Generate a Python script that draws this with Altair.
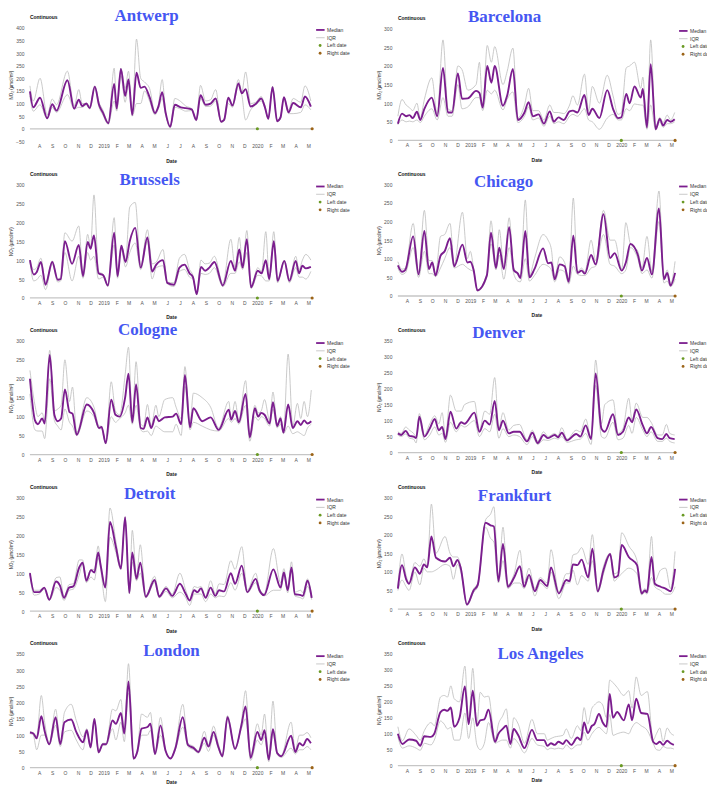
import altair as alt
import pandas as pd

# ---------------------------------------------------------------- time frame
START = pd.Timestamp("2018-07-10")
END = pd.Timestamp("2020-05-10")
LEFT_DATE = pd.Timestamp("2020-01-01")
RIGHT_DATE = END
MONTH_TICKS = pd.date_range("2018-08-01", "2020-05-01", freq="MS")

MEDIAN_COLOR = "#7b1d8e"
IQR_COLOR = "#bdbdbd"
LEFT_COLOR = "#6a9a24"
RIGHT_COLOR = "#9c6418"
TITLE_BLUE = "#4557f2"
Y_TITLE = "NO₂ (µmol/m²)"
LEGEND_ITEMS = ["Median", "IQR", "Left date", "Right date"]

# ---------------------------------------------------------------- data
# knots: days since 2018-07-10; median, lower quartile (q1), upper quartile (q3)
antwerp_days = [0, 8, 24, 41, 53, 63, 89, 105, 116, 124, 134, 142, 154, 164, 173, 186, 200, 206, 216, 226,
                234, 243, 253, 263, 272, 284, 297, 305, 314, 322, 333, 344, 358, 370, 384, 395, 405, 417, 429, 441,
                454, 461, 471, 481, 495, 503, 512, 524, 536, 549, 558, 566, 576, 587, 595, 603, 614, 625, 643, 653, 667]
antwerp_med = [148, 85, 123, 42, 97, 72, 192, 80, 115, 90, 100, 82, 167, 95, 65, 22, 178, 80, 237, 130,
               195, 55, 222, 162, 167, 125, 62, 88, 145, 65, 8, 95, 85, 82, 77, 35, 133, 95, 100, 120,
               28, 35, 123, 92, 180, 140, 157, 88, 98, 120, 85, 40, 165, 30, 45, 125, 65, 102, 85, 128, 88]
antwerp_q3 = [170, 110, 200, 55, 118, 95, 228, 90, 155, 100, 100, 90, 170, 105, 75, 25, 240, 90, 240, 160,
              228, 60, 355, 200, 185, 160, 65, 95, 195, 70, 10, 120, 108, 90, 80, 38, 172, 110, 115, 155,
              30, 40, 125, 95, 195, 145, 225, 100, 105, 128, 90, 42, 168, 32, 50, 125, 75, 120, 105, 170, 110]
antwerp_q1 = [130, 70, 95, 40, 85, 65, 135, 78, 85, 85, 95, 78, 160, 85, 55, 18, 110, 70, 210, 105,
              175, 50, 100, 100, 150, 110, 55, 80, 120, 55, 5, 85, 78, 70, 72, 32, 120, 88, 90, 110,
              25, 30, 100, 85, 170, 135, 35, 75, 95, 110, 80, 38, 160, 28, 40, 120, 60, 60, 65, 95, 75]

barcelona_days = [0, 10, 20, 28, 36, 46, 54, 64, 82, 95, 109, 121, 131, 145, 155, 169, 189, 197, 205, 216,
                  226, 234, 254, 264, 278, 290, 306, 316, 326, 340, 353, 367, 377, 388, 401, 415, 423, 434, 451, 461,
                  470, 487, 506, 520, 532, 540, 552, 560, 572, 587, 592, 602, 611, 623, 633, 641, 651, 659, 669]
barcelona_med = [45, 72, 65, 68, 60, 77, 55, 85, 115, 65, 195, 75, 75, 180, 112, 113, 133, 128, 88, 200,
                 155, 200, 93, 120, 192, 55, 75, 103, 65, 70, 45, 78, 50, 62, 55, 78, 80, 75, 122, 68,
                 85, 60, 135, 85, 60, 62, 125, 100, 145, 115, 138, 35, 205, 30, 58, 40, 55, 50, 57]
barcelona_q3 = [65, 110, 95, 88, 80, 100, 60, 110, 168, 70, 270, 85, 80, 200, 190, 135, 150, 210, 90, 255,
                210, 252, 150, 185, 248, 60, 95, 140, 80, 80, 55, 95, 75, 75, 72, 95, 120, 95, 178, 80,
                145, 100, 175, 120, 70, 75, 195, 200, 210, 140, 170, 38, 270, 35, 62, 48, 68, 55, 75]
barcelona_q1 = [42, 55, 50, 52, 50, 55, 48, 65, 85, 55, 115, 65, 65, 150, 85, 90, 115, 115, 80, 135,
                125, 135, 82, 110, 130, 48, 65, 90, 55, 60, 38, 65, 45, 50, 45, 65, 70, 65, 85, 55,
                50, 30, 60, 70, 55, 55, 85, 80, 98, 95, 95, 30, 95, 28, 50, 35, 45, 45, 50]

brussels_days = [0, 9, 16, 26, 37, 53, 66, 73, 83, 100, 116, 126, 137, 144, 152, 163, 174, 185, 200, 208,
                 217, 227, 237, 250, 263, 279, 290, 300, 316, 326, 342, 355, 367, 379, 387, 396, 406, 416, 426, 438,
                 458, 477, 487, 497, 505, 515, 525, 541, 550, 560, 568, 579, 588, 604, 616, 631, 639, 647, 655, 667]
brussels_med = [100, 62, 68, 95, 35, 95, 48, 50, 150, 90, 140, 58, 148, 130, 165, 65, 60, 33, 172, 58,
                138, 95, 150, 185, 80, 160, 70, 88, 100, 40, 35, 80, 88, 65, 55, 10, 82, 72, 80, 95,
                33, 98, 72, 128, 80, 155, 28, 72, 65, 100, 50, 150, 45, 98, 45, 98, 65, 85, 78, 82]
brussels_q3 = [100, 75, 80, 105, 40, 98, 50, 55, 172, 150, 190, 60, 168, 135, 272, 70, 62, 35, 212, 60,
               140, 100, 240, 252, 85, 180, 90, 95, 128, 42, 40, 105, 115, 75, 60, 12, 100, 90, 92, 110,
               38, 155, 80, 160, 85, 178, 30, 80, 70, 175, 55, 175, 48, 100, 50, 110, 75, 100, 115, 100]
brussels_q1 = [95, 45, 48, 60, 22, 90, 42, 45, 120, 45, 110, 52, 120, 100, 110, 50, 55, 30, 140, 52,
               128, 82, 120, 145, 75, 150, 50, 80, 85, 38, 30, 70, 75, 55, 50, 8, 65, 62, 65, 80,
               30, 65, 65, 95, 75, 120, 25, 60, 58, 45, 45, 140, 40, 95, 40, 80, 55, 55, 50, 70]

chicago_days = [0, 10, 18, 37, 50, 64, 75, 83, 91, 103, 113, 126, 136, 156, 168, 175, 183, 192, 215, 225,
                237, 245, 256, 269, 280, 290, 296, 308, 318, 330, 351, 363, 371, 379, 391, 403, 413, 424, 434, 444,
                452, 467, 478, 497, 513, 524, 541, 551, 562, 580, 590, 602, 614, 631, 643, 651, 659, 670]
chicago_med = [82, 65, 70, 160, 58, 175, 72, 90, 55, 108, 120, 155, 80, 138, 90, 92, 70, 15, 55, 170,
               75, 130, 72, 185, 70, 60, 48, 175, 50, 72, 128, 88, 90, 45, 85, 80, 38, 162, 62, 68,
               60, 110, 85, 220, 102, 115, 68, 90, 140, 110, 68, 102, 58, 235, 45, 62, 28, 62]
chicago_q3 = [92, 72, 75, 195, 62, 230, 95, 95, 58, 160, 165, 195, 85, 225, 100, 120, 75, 17, 60, 202,
              80, 178, 80, 210, 75, 62, 50, 258, 55, 100, 165, 150, 125, 50, 105, 90, 40, 263, 65, 75,
              65, 150, 95, 230, 150, 150, 72, 197, 140, 120, 75, 160, 65, 282, 50, 70, 32, 93]
chicago_q1 = [75, 58, 62, 130, 50, 120, 60, 60, 52, 75, 100, 130, 75, 85, 75, 70, 65, 13, 50, 140,
              70, 110, 45, 130, 60, 40, 38, 100, 40, 55, 85, 80, 70, 38, 70, 65, 32, 80, 58, 55,
              55, 75, 80, 165, 85, 80, 60, 70, 130, 100, 60, 70, 48, 200, 35, 40, 25, 45]

cologne_days = [0, 12, 19, 29, 35, 47, 58, 66, 74, 83, 94, 101, 111, 135, 152, 164, 170, 180, 193, 203,
                213, 226, 234, 243, 252, 263, 270, 279, 288, 299, 306, 320, 339, 347, 359, 368, 380, 388, 409, 429,
                448, 472, 478, 487, 496, 512, 522, 534, 542, 549, 557, 569, 577, 587, 595, 602, 613, 624, 635, 643,
                651, 659, 668]
cologne_med = [200, 90, 80, 95, 82, 263, 105, 88, 95, 172, 112, 108, 52, 132, 110, 70, 73, 30, 145, 105,
               100, 150, 213, 85, 185, 70, 68, 98, 70, 102, 88, 98, 100, 108, 80, 210, 72, 122, 88, 98,
               65, 118, 92, 115, 85, 160, 45, 122, 100, 110, 105, 82, 138, 75, 95, 58, 132, 70, 88, 78,
               90, 82, 88]
cologne_q3 = [222, 130, 100, 110, 90, 275, 115, 120, 130, 250, 140, 178, 58, 150, 125, 75, 75, 32, 192, 115,
              105, 210, 283, 90, 245, 80, 75, 132, 75, 130, 100, 145, 150, 125, 95, 232, 80, 162, 150, 125,
              70, 140, 95, 140, 90, 195, 50, 130, 110, 115, 145, 90, 165, 80, 100, 60, 265, 75, 135, 95,
              140, 100, 170]
cologne_q1 = [160, 65, 62, 62, 42, 200, 90, 75, 65, 120, 85, 75, 50, 115, 100, 68, 68, 28, 100, 85,
              95, 110, 130, 80, 130, 65, 60, 62, 50, 75, 70, 60, 60, 80, 50, 180, 65, 85, 75, 65,
              62, 95, 85, 95, 80, 130, 35, 100, 90, 100, 95, 75, 120, 70, 80, 55, 75, 55, 60, 55,
              50, 70, 80]

denver_days = [0, 8, 19, 28, 38, 44, 52, 64, 77, 89, 99, 107, 115, 127, 141, 153, 161, 185, 197, 210,
               222, 234, 244, 254, 268, 280, 294, 312, 325, 338, 352, 363, 379, 387, 396, 409, 431, 441, 454, 467,
               478, 492, 500, 520, 532, 544, 558, 566, 576, 592, 602, 612, 628, 639, 649, 657, 669]
denver_med = [60, 55, 68, 52, 50, 45, 112, 50, 75, 105, 70, 80, 42, 128, 75, 95, 90, 125, 65, 100,
              88, 162, 70, 100, 60, 65, 65, 35, 62, 30, 55, 45, 55, 48, 62, 38, 58, 50, 85, 42,
              248, 75, 65, 120, 55, 65, 110, 95, 135, 85, 60, 80, 45, 42, 58, 45, 42]
denver_q3 = [65, 60, 80, 70, 60, 50, 122, 55, 90, 115, 90, 125, 50, 180, 130, 130, 150, 160, 70, 130,
             120, 235, 75, 125, 70, 85, 88, 40, 70, 35, 65, 50, 60, 52, 78, 42, 70, 65, 105, 45,
             290, 90, 150, 165, 60, 75, 170, 100, 155, 110, 110, 95, 55, 55, 88, 60, 55]
denver_q1 = [55, 50, 58, 45, 42, 30, 105, 40, 55, 80, 55, 60, 32, 95, 65, 85, 80, 100, 50, 75,
             65, 120, 45, 75, 50, 55, 50, 25, 50, 25, 40, 38, 45, 42, 50, 32, 40, 42, 60, 25,
             210, 50, 45, 95, 40, 45, 85, 60, 110, 70, 50, 65, 35, 35, 45, 35, 30]

detroit_days = [0, 10, 22, 34, 46, 62, 71, 81, 93, 103, 117, 125, 134, 145, 153, 162, 168, 179, 190, 204,
                216, 226, 236, 243, 253, 262, 275, 296, 307, 323, 338, 356, 370, 379, 390, 398, 406, 417, 429, 440,
                449, 461, 477, 487, 503, 516, 536, 545, 556, 578, 595, 603, 612, 621, 629, 643, 648, 659, 669]
detroit_med = [100, 50, 50, 62, 30, 78, 68, 35, 62, 65, 115, 128, 80, 108, 102, 155, 120, 62, 235, 170,
               112, 248, 48, 155, 85, 128, 38, 82, 38, 60, 40, 72, 45, 28, 55, 50, 60, 35, 62, 40,
               55, 52, 100, 72, 120, 50, 85, 55, 42, 110, 62, 102, 55, 115, 45, 42, 40, 80, 35]
detroit_q3 = [102, 55, 55, 62, 32, 88, 90, 38, 70, 72, 135, 135, 85, 110, 110, 172, 125, 65, 272, 185,
              115, 248, 50, 213, 90, 175, 40, 92, 40, 65, 45, 100, 55, 30, 65, 62, 65, 38, 80, 45,
              72, 70, 133, 110, 170, 55, 100, 60, 45, 165, 75, 112, 60, 130, 50, 55, 48, 85, 40]
detroit_q1 = [95, 42, 45, 58, 28, 62, 55, 28, 55, 58, 95, 125, 75, 90, 82, 140, 110, 25, 195, 155,
              110, 240, 45, 130, 80, 100, 35, 75, 35, 52, 35, 50, 35, 15, 45, 45, 45, 25, 45, 35,
              40, 38, 75, 55, 100, 48, 75, 50, 40, 55, 55, 95, 48, 110, 40, 35, 32, 65, 30]

frankfurt_days = [0, 10, 20, 27, 41, 53, 63, 71, 81, 92, 114, 126, 134, 144, 152, 167, 183, 193, 212, 224,
                  232, 243, 254, 266, 281, 295, 305, 317, 331, 344, 361, 370, 389, 407, 415, 423, 434, 444, 460, 470,
                  483, 497, 513, 523, 532, 541, 558, 578, 589, 597, 602, 613, 621, 635, 647, 659, 670]
frankfurt_med = [55, 118, 80, 68, 112, 95, 120, 112, 195, 138, 128, 138, 115, 132, 110, 12, 50, 65, 232, 225,
                 222, 75, 175, 60, 85, 115, 60, 92, 48, 78, 62, 112, 42, 78, 75, 120, 118, 133, 85, 162,
                 48, 105, 148, 85, 90, 172, 140, 118, 42, 50, 45, 140, 68, 60, 55, 48, 108]
frankfurt_q3 = [60, 148, 90, 70, 125, 115, 135, 115, 282, 150, 195, 150, 140, 140, 115, 12, 55, 70, 240, 255,
                275, 80, 220, 65, 95, 158, 70, 110, 55, 85, 70, 160, 45, 95, 95, 145, 150, 165, 120, 200,
                50, 115, 150, 95, 100, 205, 170, 130, 45, 55, 50, 195, 75, 105, 110, 55, 155]
frankfurt_q1 = [50, 78, 60, 50, 100, 65, 110, 100, 100, 105, 120, 115, 80, 120, 100, 10, 45, 60, 220, 190,
                180, 70, 130, 55, 70, 70, 55, 85, 35, 70, 55, 100, 28, 70, 70, 105, 65, 90, 75, 130,
                45, 95, 145, 75, 85, 95, 110, 95, 38, 45, 40, 85, 60, 50, 40, 40, 60]

london_days = [0, 8, 16, 27, 35, 46, 61, 72, 82, 98, 110, 126, 135, 144, 153, 163, 173, 181, 196, 204,
               216, 224, 234, 246, 255, 265, 279, 286, 297, 310, 322, 334, 345, 363, 375, 389, 400, 414, 424, 436,
               447, 457, 469, 487, 502, 512, 524, 540, 549, 557, 567, 577, 587, 597, 620, 630, 640, 648, 658, 667]
london_med = [108, 105, 90, 158, 112, 72, 155, 72, 140, 148, 110, 78, 115, 62, 150, 47, 72, 72, 145, 135,
              168, 105, 265, 28, 50, 120, 125, 135, 42, 130, 52, 28, 58, 155, 70, 60, 48, 92, 65, 110,
              65, 35, 155, 58, 130, 188, 30, 110, 85, 115, 25, 118, 45, 35, 98, 48, 75, 68, 88, 75]
london_q3 = [110, 108, 95, 222, 140, 75, 180, 75, 170, 195, 145, 95, 120, 65, 152, 50, 75, 75, 180, 175,
             210, 110, 320, 30, 55, 165, 155, 170, 45, 155, 55, 30, 65, 195, 75, 65, 52, 112, 70, 128,
             75, 38, 160, 62, 140, 237, 35, 135, 100, 165, 28, 205, 48, 38, 140, 55, 100, 100, 108, 92]
london_q1 = [105, 100, 55, 100, 100, 70, 130, 65, 110, 115, 85, 55, 110, 60, 145, 45, 70, 70, 120, 85,
             140, 80, 230, 25, 45, 100, 100, 115, 40, 100, 50, 27, 55, 125, 65, 55, 45, 75, 50, 100,
             60, 32, 150, 55, 120, 150, 22, 85, 70, 95, 18, 105, 40, 32, 60, 42, 55, 55, 65, 55]

la_days = [0, 11, 27, 44, 54, 64, 80, 88, 103, 112, 120, 128, 136, 149, 162, 171, 181, 191, 199, 209,
           219, 235, 243, 253, 262, 272, 280, 291, 306, 324, 337, 354, 361, 370, 379, 388, 399, 407, 419, 434,
           442, 450, 459, 469, 475, 486, 495, 504, 512, 520, 530, 546, 558, 566, 576, 588, 603, 617, 625, 633,
           641, 651, 659, 667]
la_med = [100, 68, 82, 78, 62, 92, 90, 100, 168, 175, 172, 182, 122, 150, 248, 130, 235, 125, 142, 145,
          175, 75, 100, 115, 125, 68, 115, 95, 55, 112, 80, 80, 62, 70, 65, 75, 68, 80, 65, 88,
          80, 135, 102, 125, 130, 162, 135, 122, 225, 150, 168, 142, 192, 142, 210, 165, 162, 75, 68, 75,
          65, 78, 70, 65]
la_q3 = [122, 78, 115, 95, 80, 110, 135, 125, 215, 220, 215, 250, 210, 200, 312, 135, 305, 130, 230, 215,
         218, 80, 130, 155, 178, 70, 150, 130, 70, 145, 100, 100, 80, 85, 90, 92, 95, 115, 85, 125,
         110, 182, 130, 180, 190, 200, 190, 150, 268, 260, 245, 220, 235, 180, 278, 220, 232, 80, 100, 118,
         75, 118, 102, 95]
la_q1 = [90, 55, 62, 55, 48, 70, 65, 80, 140, 130, 115, 120, 80, 80, 165, 85, 150, 65, 50, 70,
         135, 70, 75, 80, 80, 55, 85, 70, 40, 85, 65, 60, 50, 55, 52, 55, 52, 65, 52, 65,
         65, 105, 80, 100, 110, 120, 110, 100, 160, 95, 100, 105, 100, 120, 135, 125, 110, 70, 50, 48,
         60, 55, 55, 52]

# ---------------------------------------------------------------- layout
LEFT_W, RIGHT_W = 283, 278
LEFT_H, RIGHT_H = 114, 112

PANELS = {
    "Antwerp":     dict(days=antwerp_days, med=antwerp_med, q1=antwerp_q1, q3=antwerp_q3, ymin=-50, ymax=400,
                        w=LEFT_W, h=LEFT_H, tx=117, ty=-11.5, dpad=9.5),
    "Barcelona":   dict(days=barcelona_days, med=barcelona_med, q1=barcelona_q1, q3=barcelona_q3, ymin=0, ymax=300,
                        w=RIGHT_W, h=RIGHT_H, tx=107, ty=-11.5, dpad=9.5),
    "Brussels":    dict(days=brussels_days, med=brussels_med, q1=brussels_q1, q3=brussels_q3, ymin=0, ymax=300,
                        w=LEFT_W, h=LEFT_H, tx=120, ty=-4.5, dpad=9.5),
    "Chicago":     dict(days=chicago_days, med=chicago_med, q1=chicago_q1, q3=chicago_q3, ymin=0, ymax=300,
                        w=RIGHT_W, h=RIGHT_H, tx=106, ty=-2, dpad=9.5),
    "Cologne":     dict(days=cologne_days, med=cologne_med, q1=cologne_q1, q3=cologne_q3, ymin=0, ymax=300,
                        w=LEFT_W, h=LEFT_H, tx=118, ty=-10.5, dpad=9.5),
    "Denver":      dict(days=denver_days, med=denver_med, q1=denver_q1, q3=denver_q3, ymin=0, ymax=350,
                        w=RIGHT_W, h=RIGHT_H, tx=101, ty=-7.5, dpad=9.5),
    "Detroit":     dict(days=detroit_days, med=detroit_med, q1=detroit_q1, q3=detroit_q3, ymin=0, ymax=300,
                        w=LEFT_W, h=LEFT_H, tx=120, ty=-3.5, dpad=9.5),
    "Frankfurt":   dict(days=frankfurt_days, med=frankfurt_med, q1=frankfurt_q1, q3=frankfurt_q3, ymin=0, ymax=300,
                        w=RIGHT_W, h=RIGHT_H, tx=117, ty=-1.5, dpad=9.5),
    "London":      dict(days=london_days, med=london_med, q1=london_q1, q3=london_q3, ymin=0, ymax=350,
                        w=LEFT_W, h=LEFT_H, tx=142, ty=-2.5, dpad=4.5),
    "Los Angeles": dict(days=la_days, med=la_med, q1=la_q1, q3=la_q3, ymin=0, ymax=350,
                        w=RIGHT_W, h=RIGHT_H, tx=143, ty=0, dpad=4.5),
}

ORDER = ["Antwerp", "Barcelona", "Brussels", "Chicago", "Cologne",
         "Denver", "Detroit", "Frankfurt", "London", "Los Angeles"]


def dt(ts):
    return alt.DateTime(year=ts.year, month=ts.month, date=ts.day)


X_LABEL_EXPR = ("month(datum.value) == 0 ? timeFormat(datum.value, '%Y') : "
                "slice(timeFormat(datum.value, '%b'), 0, 1)")


def x_enc(title_pad):
    return alt.X(
        "date:T",
        scale=alt.Scale(domain=[dt(START), dt(END)]),
        axis=alt.Axis(
            values=[dt(t) for t in MONTH_TICKS], labelExpr=X_LABEL_EXPR,
            title="Date", titleFontSize=5, titleFontWeight="bold", titleColor="#222",
            titlePadding=title_pad, labelFontSize=5, labelColor="#555", labelPadding=2.5,
            ticks=False, tickSize=0, domain=False, grid=False,
            labelOverlap=False, labelFlush=False, labelBound=False,
        ),
    )


def y_enc(ymin, ymax):
    return alt.Y(
        "value:Q",
        scale=alt.Scale(domain=[ymin, ymax], nice=False, zero=False),
        axis=alt.Axis(
            values=list(range(ymin, ymax + 1, 50)), title=Y_TITLE,
            titleFontSize=4.5, titleFontWeight="normal", titleColor="#222", titlePadding=2,
            labelFontSize=5, labelColor="#555", labelPadding=6,
            ticks=False, tickSize=0, domain=False, grid=False, labelOverlap=False,
        ),
    )


def panel(name):
    p = PANELS[name]
    days, med, q1, q3 = p["days"], p["med"], p["q1"], p["q3"]
    assert len(days) == len(med) == len(q1) == len(q3), name
    W, H = p["w"], p["h"]
    dates = [START + pd.Timedelta(days=d) for d in days]
    n = len(days)

    iqr_df = pd.DataFrame({"date": dates * 2, "value": list(q1) + list(q3),
                           "line": ["q1"] * n + ["q3"] * n})
    med_df = pd.DataFrame({"date": dates, "value": med})
    zero_df = pd.DataFrame({"value": [0]})
    dots_df = pd.DataFrame({"date": [LEFT_DATE, RIGHT_DATE], "value": [0, 0],
                            "series": ["Left date", "Right date"]})

    X, Y = x_enc(p["dpad"]), y_enc(p["ymin"], p["ymax"])

    zero = alt.Chart(zero_df).mark_rule(color="#c6c6c6", strokeWidth=1.3).encode(y=Y)
    iqr = alt.Chart(iqr_df).mark_line(interpolate="monotone", color=IQR_COLOR, strokeWidth=0.8).encode(
        x=X, y=Y, detail="line:N")
    median = alt.Chart(med_df).mark_line(interpolate="monotone", color=MEDIAN_COLOR, strokeWidth=1.9).encode(
        x=X, y=Y)
    dots = alt.Chart(dots_df).mark_circle(size=10, opacity=1).encode(
        x=X, y=Y,
        color=alt.Color("series:N", scale=alt.Scale(domain=["Left date", "Right date"],
                                                    range=[LEFT_COLOR, RIGHT_COLOR]), legend=None))

    title = alt.Chart(pd.DataFrame({"t": [name]})).mark_text(
        font="Liberation Serif", fontWeight="bold", fontSize=17, color=TITLE_BLUE,
        align="center", baseline="middle").encode(
        text="t:N", x=alt.value(p["tx"]), y=alt.value(p["ty"]))
    cont = alt.Chart(pd.DataFrame({"t": ["Continuous"]})).mark_text(
        fontWeight="bold", fontSize=5, color="#111", align="left", baseline="middle").encode(
        text="t:N", x=alt.value(0), y=alt.value(-10.5))

    # legend (drawn beside the plot like the original)
    leg = []
    for i, item in enumerate(LEGEND_ITEMS):
        yy = 2.2 + 7.8 * i
        base = alt.Chart(pd.DataFrame({"label": [item]}))
        if item == "Median":
            leg.append(base.mark_rule(color=MEDIAN_COLOR, strokeWidth=1.8).encode(
                x=alt.value(W + 4), x2=alt.value(W + 12.5), y=alt.value(yy)))
        elif item == "IQR":
            leg.append(base.mark_rule(color=IQR_COLOR, strokeWidth=0.8).encode(
                x=alt.value(W + 4), x2=alt.value(W + 12.5), y=alt.value(yy)))
        else:
            c = LEFT_COLOR if item == "Left date" else RIGHT_COLOR
            leg.append(base.mark_circle(color=c, size=8, opacity=1).encode(
                x=alt.value(W + 8), y=alt.value(yy)))
        leg.append(base.mark_text(fontSize=5, color="#333", align="left", baseline="middle").encode(
            text="label:N", x=alt.value(W + 15), y=alt.value(yy)))

    return alt.layer(zero, iqr, median, dots, title, cont, *leg).properties(width=W, height=H)


chart = alt.concat(
    *[panel(n) for n in ORDER],
    columns=2, spacing={"row": 43, "column": 86}, bounds="flush", center=True,
).properties(
    padding={"top": -2.3, "left": 0, "right": -6, "bottom": -1}
).configure(font="Liberation Sans").configure_view(stroke=None)

chart.save("out.html", embed_options={"renderer": "svg", "actions": False})
